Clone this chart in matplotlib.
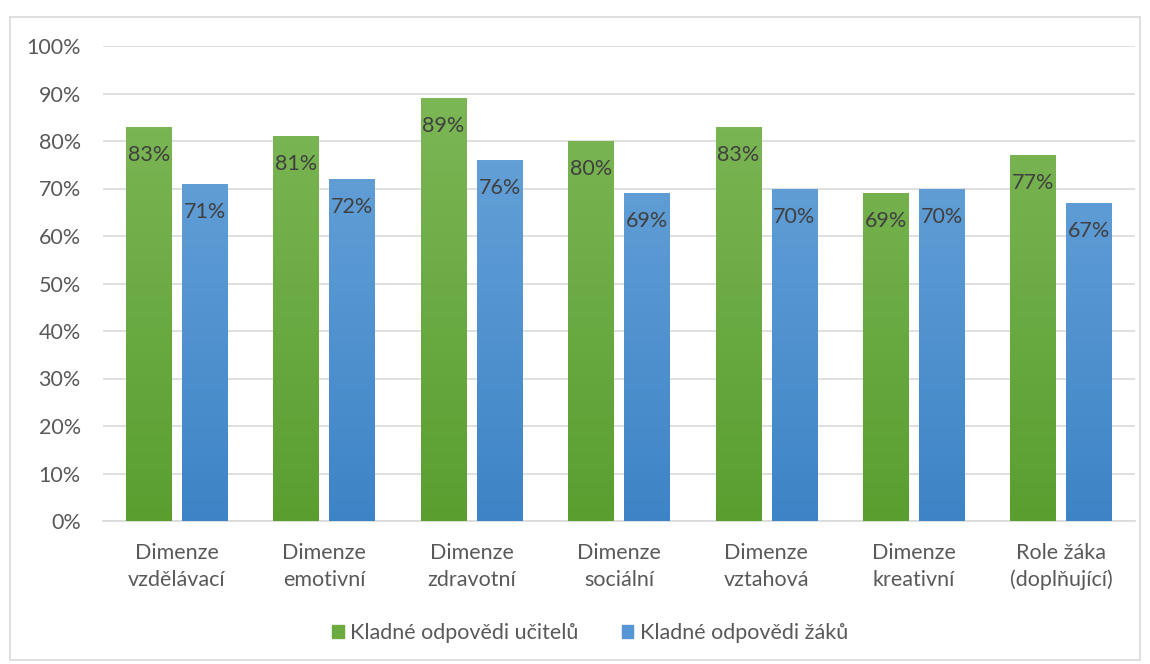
import numpy as np
import matplotlib.pyplot as plt
from matplotlib.colors import LinearSegmentedColormap
from matplotlib.patches import Rectangle
from matplotlib.ticker import PercentFormatter

categories = ["Dimenze\nvzdělávací", "Dimenze\nemotivní", "Dimenze\nzdravotní",
              "Dimenze\nsociální", "Dimenze\nvztahová", "Dimenze\nkreativní",
              "Role žáka\n(doplňující)"]
teachers = [83, 81, 89, 80, 83, 69, 77]
pupils = [71, 72, 76, 69, 70, 70, 67]
series_names = ["Kladné odpovědi učitelů", "Kladné odpovědi žáků"]

plt.rcParams["font.family"] = ["Lato", "DejaVu Sans"]
fsize = 15.5
text_col = "#595959"

fig = plt.figure(figsize=(11.5, 6.64), dpi=100)
fig.patches.append(Rectangle((10 / 1150, 4 / 664), 1130 / 1150, 643 / 664,
                             transform=fig.transFigure, fill=False,
                             edgecolor="#D9D9D9", linewidth=1.2))
ax = fig.add_axes([103 / 1150, 143 / 664, 1032 / 1150, 475 / 664])

x = np.arange(len(categories))
width = 0.31
offset = 0.19

grads = [
    LinearSegmentedColormap.from_list("g", ["#5A9E30", "#80BA5A"]),
    LinearSegmentedColormap.from_list("b", ["#3D84C6", "#6FA8DC"]),
]
grad = np.linspace(0, 1, 256).reshape(-1, 1)

for vals, sign, cmap, name in zip([teachers, pupils], [-1, 1], grads, series_names):
    bars = ax.bar(x + sign * offset, vals, width, color="none", edgecolor="none",
                  zorder=3, label=name)
    for b, v in zip(bars, vals):
        x0, w = b.get_x(), b.get_width()
        im = ax.imshow(grad, cmap=cmap, aspect="auto", origin="lower",
                       extent=[x0, x0 + w, 0, 100], zorder=3)
        im.set_clip_path(b)
        ax.text(x0 + w / 2, v - 5.9, f"{v}%", ha="center", va="center",
                fontsize=fsize, color="#404040", zorder=4)

ax.set_xlim(-0.5, len(categories) - 0.5)
ax.set_ylim(0, 100)
ax.set_yticks(np.arange(0, 101, 10))
ax.yaxis.set_major_formatter(PercentFormatter(decimals=0))
ax.set_xticks(x)
ax.set_xticklabels(categories, fontsize=fsize, color=text_col, linespacing=1.4)
ax.tick_params(axis="y", labelsize=fsize, labelcolor=text_col, length=0, pad=16)
ax.tick_params(axis="x", length=0, pad=16)
ax.grid(axis="y", color="#D9D9D9", linewidth=1.2, zorder=0)
for s in ["top", "right", "left"]:
    ax.spines[s].set_visible(False)
ax.spines["bottom"].set_color("#D9D9D9")
ax.spines["bottom"].set_linewidth(1.2)

handles = [Rectangle((0, 0), 1, 1, color="#6AAA3F"),
           Rectangle((0, 0), 1, 1, color="#5596D4")]
fig.legend(handles, series_names, loc="center", bbox_to_anchor=(590 / 1150, 31 / 664),
           ncol=2, frameon=False, fontsize=fsize, labelcolor=text_col,
           handlelength=0.55, handleheight=0.55, handletextpad=0.3, columnspacing=2.0)

fig.savefig("out.png", dpi=100)
